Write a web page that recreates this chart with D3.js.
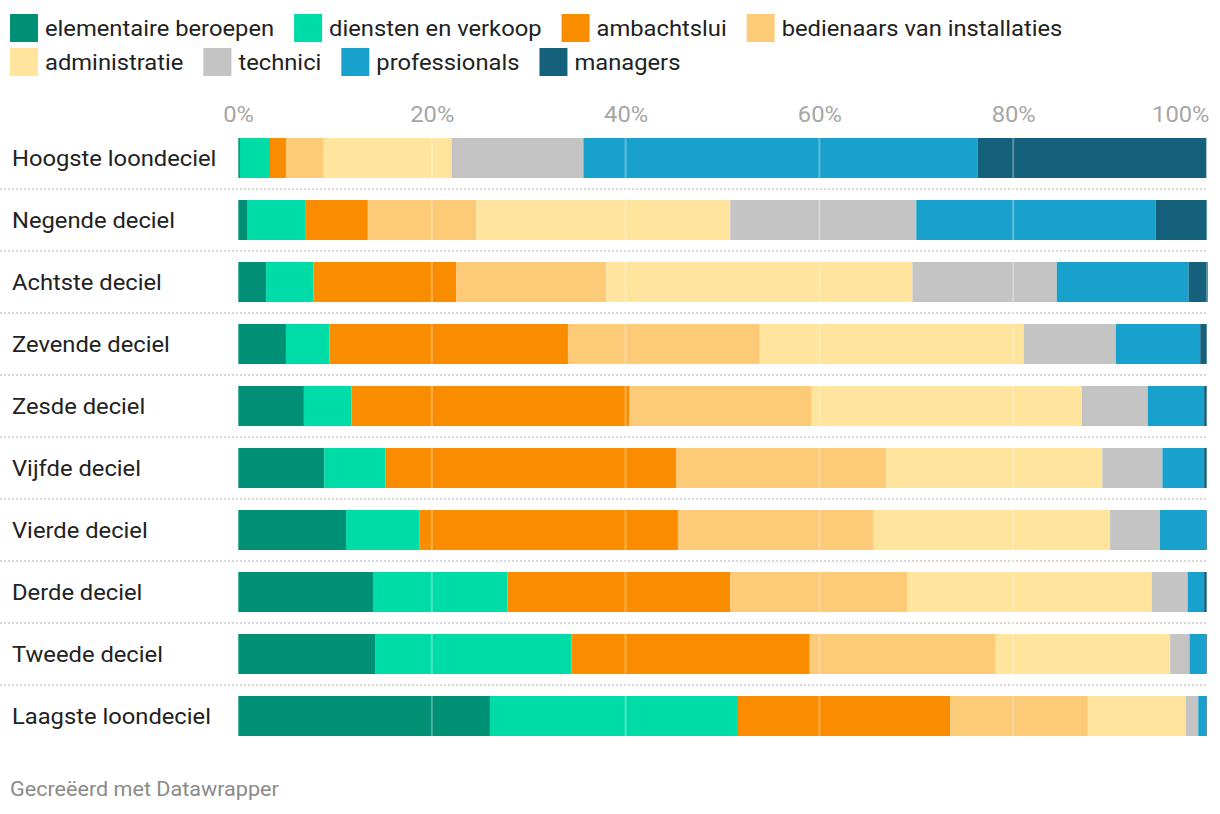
<!DOCTYPE html>
<html>
<head>
<meta charset="utf-8">
<script src="https://cdn.jsdelivr.net/npm/d3@7"></script>
<style>
  html, body { margin: 0; padding: 0; background: #fff; }
  svg { display: block; font-family: Roboto, "Noto Sans", sans-serif; }
</style>
</head>
<body>
<svg id="chart" width="1220" height="814"></svg>
<script>
const categories = ["Hoogste loondeciel", "Negende deciel", "Achtste deciel", "Zevende deciel", "Zesde deciel",
  "Vijfde deciel", "Vierde deciel", "Derde deciel", "Tweede deciel", "Laagste loondeciel"];
const seriesNames = ["elementaire beroepen", "diensten en verkoop", "ambachtslui", "bedienaars van installaties",
  "administratie", "technici", "professionals", "managers"];
const seriesColors = ["#009076", "#00dca8", "#fa8c00", "#fdca78", "#fee49c", "#c4c4c4", "#19a1cd", "#15607a"];

const elementaire   = [0.2, 1.0, 2.9, 4.95, 6.8, 8.9, 11.15, 14.0, 14.2, 26.0];
const diensten      = [3.1, 6.0, 4.9, 4.5, 4.9, 6.3, 7.6, 13.8, 20.2, 25.6];
const ambachtslui   = [1.65, 6.4, 14.7, 24.6, 28.7, 30.0, 26.65, 23.0, 24.6, 21.9];
const bedienaars    = [3.9, 11.2, 15.5, 19.8, 18.8, 21.7, 20.2, 18.3, 19.2, 14.2];
const administratie = [13.2, 26.2, 31.6, 27.25, 27.9, 22.3, 24.4, 25.2, 18.0, 10.1];
const technici      = [13.6, 19.2, 14.9, 9.5, 6.8, 6.2, 5.15, 3.7, 2.0, 1.3];
const professionals = [40.7, 24.7, 13.6, 8.7, 5.8, 4.3, 4.75, 1.7, 1.7, 0.8];
const managers      = [23.6, 5.3, 2.0, 0.7, 0.3, 0.3, 0.1, 0.3, 0.1, 0.1];

const tickValues = [0, 20, 40, 60, 80, 100];
const tickLabels = ["0%", "20%", "40%", "60%", "80%", "100%"];
const footerText = "Gecreëerd met Datawrapper";

const seriesArrays = [elementaire, diensten, ambachtslui, bedienaars, administratie, technici, professionals, managers];
const table = categories.map((c, i) => {
  const row = { category: c };
  seriesNames.forEach((s, j) => row[s] = seriesArrays[j][i]);
  return row;
});

const SX = 1.08; // horizontal text stretch seen in the reference

const svg = d3.select("#chart");
const x = d3.scaleLinear().domain([0, 100]).range([238, 1207]);
const y = d3.scaleBand().domain(categories).range([127, 747]).paddingInner(22 / 62).paddingOuter(11 / 62);
const color = d3.scaleOrdinal().domain(seriesNames).range(seriesColors);

// Legend
const legend = svg.append("g");
let lx = 10, ly = 14;
seriesNames.forEach((s) => {
  const g = legend.append("g");
  g.append("rect").attr("width", 28).attr("height", 28).attr("fill", color(s));
  const t = g.append("text").attr("transform", `translate(35,22) scale(${SX},1)`)
    .attr("font-size", 22).attr("fill", "#222").text(s);
  const w = 35 + t.node().getComputedTextLength() * SX;
  if (lx + w > 1210) { lx = 10; ly += 34; }
  g.attr("transform", `translate(${lx},${ly})`);
  lx += w + 20;
});

// Separators
const cats = categories.slice(0, -1);
svg.append("g").selectAll("line").data(cats).join("line")
  .attr("x1", 0).attr("x2", 1207)
  .attr("y1", d => y(d) + y.bandwidth() + 11).attr("y2", d => y(d) + y.bandwidth() + 11)
  .attr("stroke", "#d6d6d6").attr("stroke-width", 2).attr("stroke-dasharray", "2,2");

// Bars
const stack = d3.stack().keys(seriesNames);
const stacked = stack(table);
svg.append("g").selectAll("g").data(stacked).join("g")
  .attr("fill", d => color(d.key))
  .selectAll("rect").data(d => d).join("rect")
  .attr("x", d => x(d[0]))
  .attr("width", d => Math.max(0, x(d[1]) - x(d[0])))
  .attr("y", d => y(d.data.category))
  .attr("height", y.bandwidth());

// Grid lines over bars
svg.append("g").selectAll("line").data(tickValues).join("line")
  .attr("x1", d => x(d)).attr("x2", d => x(d))
  .attr("y1", 130).attr("y2", 742)
  .attr("stroke", "#fff").attr("stroke-opacity", 0.3).attr("stroke-width", 2);

// Axis labels
const xAxis = d3.axisTop(x).tickValues(tickValues).tickFormat((d, i) => tickLabels[i]).tickSize(0).tickPadding(0);
const axisG = svg.append("g").attr("transform", "translate(0,122)").call(xAxis);
axisG.select(".domain").remove();
axisG.selectAll("text")
  .attr("font-size", 22).attr("fill", "#a6a6a6").attr("font-family", "Roboto, sans-serif")
  .attr("y", 0).attr("dy", 0)
  .attr("text-anchor", (d, i) => i === tickValues.length - 1 ? "end" : "middle")
  .attr("transform", (d, i) => i === tickValues.length - 1 ? `translate(2,0) scale(${SX},1)` : `scale(${SX},1)`);

// Row labels
svg.append("g").selectAll("text").data(categories).join("text")
  .attr("transform", d => `translate(12,${y(d) + y.bandwidth() / 2 + 8}) scale(${SX},1)`)
  .attr("font-size", 22).attr("fill", "#222").text(d => d);

// Footer
svg.append("text").attr("transform", `translate(10,796) scale(${SX},1)`)
  .attr("font-size", 20).attr("fill", "#8a8a8a").text(footerText);
</script>
</body>
</html>
